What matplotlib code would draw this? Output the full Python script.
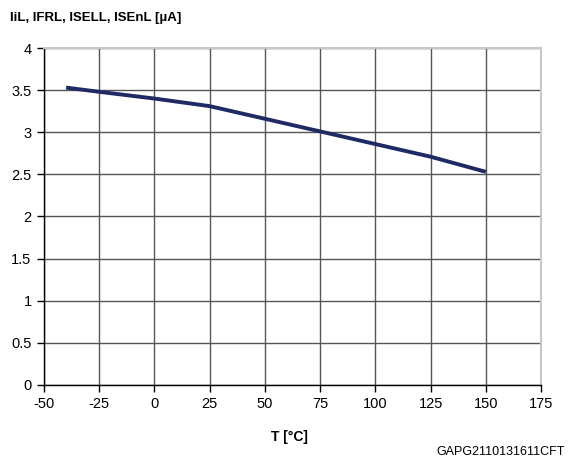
import matplotlib
matplotlib.use("Agg")
import matplotlib.pyplot as plt

plt.rcParams['font.family'] = ['Liberation Sans', 'DejaVu Sans']

# temperature [°C] and current [uA]
temp = [-40, -25, 0, 25, 50, 75, 100, 125, 150]
current = [3.53, 3.48, 3.40, 3.31, 3.16, 3.01, 2.86, 2.71, 2.53]

xticks = [-50, -25, 0, 25, 50, 75, 100, 125, 150, 175]
yticks = [0, 0.5, 1, 1.5, 2, 2.5, 3, 3.5, 4]
ylabels = ['0', '0.5', '1', '1.5', '2', '2.5', '3', '3.5', '4']

fig = plt.figure(figsize=(5.68, 4.63), dpi=100)
ax = fig.add_axes([0.0775, 0.1685, 0.875, 0.7278])

ax.plot(temp, current, color='#1f2a64', lw=2.8, solid_capstyle='butt', zorder=3)

ax.set_xlim(-50, 175)
ax.set_ylim(0, 4)
ax.set_xticks(xticks)
ax.set_xticklabels([str(t) for t in xticks])
ax.set_yticks(yticks)
ax.set_yticklabels(ylabels)
ax.grid(True, color='#555555', lw=1.0)
ax.set_axisbelow(True)

for s in ['top', 'right']:
    ax.spines[s].set_color('#c8c8c8')
    ax.spines[s].set_linewidth(1.5)
for s in ['left', 'bottom']:
    ax.spines[s].set_color('black')
    ax.spines[s].set_linewidth(1.0)

ax.tick_params(direction='out', length=5, width=1, labelsize=10.5, pad=4)

fig.text(0.018, 0.962, 'IiL, IFRL, ISELL, ISEnL [µA]', fontsize=9.5, fontweight='bold',
         ha='left', va='center')
fig.text(0.51, 0.056, 'T [°C]', fontsize=10, fontweight='bold', ha='center', va='center')
fig.text(0.995, 0.024, 'GAPG2110131611CFT', fontsize=9, ha='right', va='center')

fig.savefig('out.png', dpi=100)
